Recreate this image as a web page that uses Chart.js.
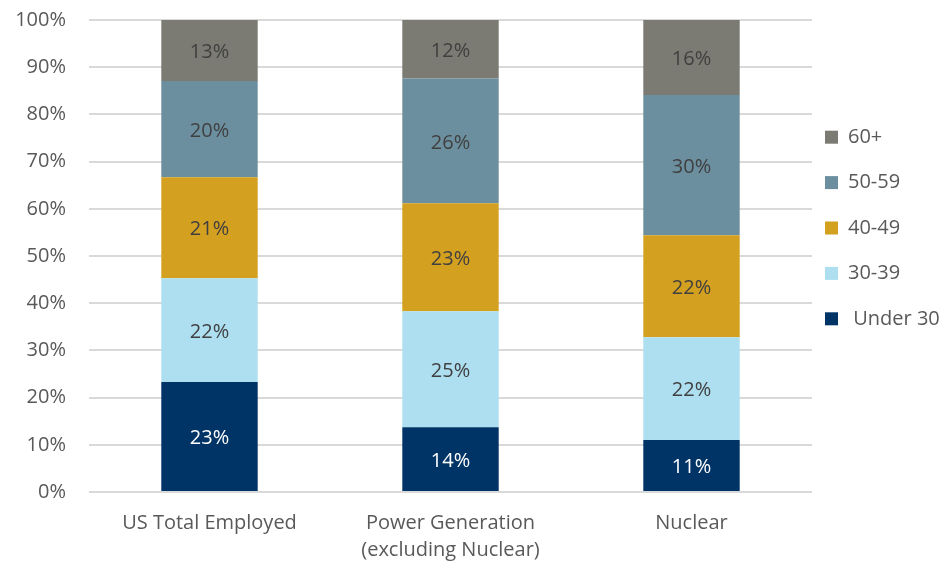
<!DOCTYPE html>
<html>
<head>
<meta charset="utf-8">
<script src="https://cdn.jsdelivr.net/npm/chart.js@4"></script>
<style>
  body { margin: 0; background: #fff; }
</style>
</head>
<body>
<canvas id="chartAge" width="946" height="564"></canvas>
<script>
// données (% des employés par tranche d'âge)
const categories = ['US Total Employed', ['Power Generation', '(excluding Nuclear)'], 'Nuclear'];
const ageGroups = [' Under 30', '30-39', '40-49', '50-59', '60+'];
const under30 = [23.3, 13.7, 11.0];
const age30_39 = [22.0, 24.6, 21.8];
const age40_49 = [21.4, 22.9, 21.6];
const age50_59 = [20.4, 26.4, 29.7];
const age60plus = [12.9, 12.4, 15.9];
const yTicks = [0, 10, 20, 30, 40, 50, 60, 70, 80, 90, 100];

const couleurs = ['#003366', '#addff1', '#d4a01f', '#6b8f9f', '#7b7b73'];
const couleursTexte = ['#ffffff', '#404040', '#404040', '#404040', '#404040'];
const police = "'Open Sans', sans-serif";

// étiquettes au centre de chaque segment
const etiquettesPlugin = {
  id: 'etiquettes',
  afterDatasetsDraw(chart) {
    const ctx = chart.ctx;
    ctx.save();
    ctx.font = '20px ' + police;
    ctx.textAlign = 'center';
    ctx.textBaseline = 'middle';
    chart.data.datasets.forEach((ds, i) => {
      const meta = chart.getDatasetMeta(i);
      meta.data.forEach((bar, j) => {
        ctx.fillStyle = couleursTexte[i];
        ctx.fillText(Math.round(ds.data[j]) + '%', bar.x, (bar.y + bar.base) / 2 + 2);
      });
    });
    ctx.restore();
  }
};

const series = [under30, age30_39, age40_49, age50_59, age60plus];

const ctx = document.getElementById('chartAge').getContext('2d');
new Chart(ctx, {
  type: 'bar',
  data: {
    labels: categories,
    datasets: series.map((data, i) => ({
      label: ageGroups[i],
      data: data,
      backgroundColor: couleurs[i],
      borderWidth: 0,
      barPercentage: 0.4,
      categoryPercentage: 1
    }))
  },
  options: {
    responsive: false,
    animation: false,
    layout: { padding: 0 },
    plugins: {
      legend: {
        position: 'right',
        align: 'start',
        reverse: true,
        maxWidth: 134,
        title: { display: true, text: '', padding: 56.5, font: { size: 1 } },
        labels: {
          boxWidth: 13,
          boxHeight: 13,
          padding: 13,
          color: '#595959',
          font: { family: police, size: 20, lineHeight: 1.62 },
          // texte en tableau pour que la hauteur de ligne soit prise en compte
          generateLabels: chart => Chart.defaults.plugins.legend.labels.generateLabels(chart)
            .map(item => ({ ...item, text: [item.text] }))
        }
      },
      tooltip: { enabled: false }
    },
    scales: {
      x: {
        stacked: true,
        grid: { display: false, drawTicks: false },
        border: { display: false },
        ticks: { color: '#595959', font: { family: police, size: 20, lineHeight: 1.35 }, padding: 18, maxRotation: 0 },
        afterFit: scale => { scale.height = 72; }
      },
      y: {
        stacked: true,
        min: 0,
        max: 100,
        afterBuildTicks: axis => { axis.ticks = yTicks.map(v => ({ value: v })); },
        afterFit: scale => { scale.width = 89; scale.paddingTop = 20; scale.paddingBottom = 0; },
        grid: { color: '#d9d9d9', lineWidth: 2, drawTicks: false },
        border: { display: false },
        ticks: { color: '#595959', font: { family: police, size: 20 }, padding: 23, callback: v => v + '%' }
      }
    }
  },
  plugins: [etiquettesPlugin]
});
</script>
</body>
</html>
